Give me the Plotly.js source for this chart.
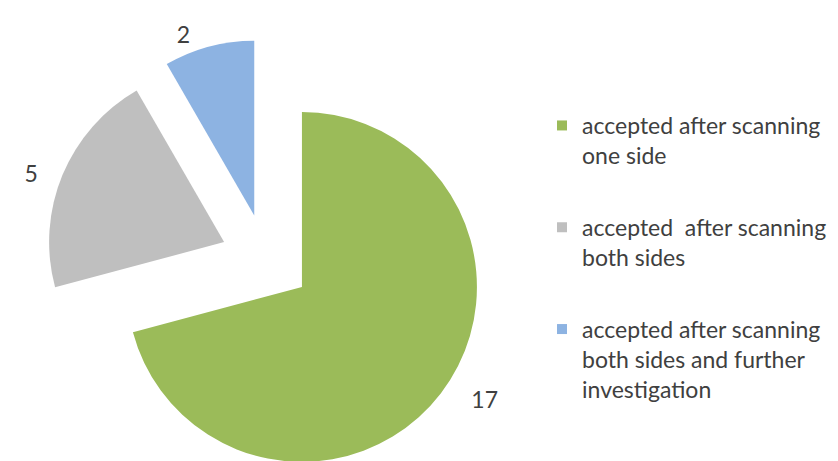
<!DOCTYPE html>
<html>
<head>
<meta charset="utf-8">
<script src="https://cdn.plot.ly/plotly-3.0.1.min.js"></script>
<style>
html,body{margin:0;padding:0;overflow:hidden;background:#fff;}
#chart{width:838px;height:500px;}
</style>
</head>
<body>
<div id="chart"></div>
<script>
const labels = [
  "accepted after scanning<br>one side",
  "accepted\u00a0 after scanning<br>both sides",
  "accepted after scanning<br>both sides and further<br>investigation"
];
const values = [17, 5, 2];
const colors = ["#9BBB59", "#BFBFBF", "#8DB3E2"];
const pulls = [0.259, 0.259, 0.259];
const NB = "\u00a0";
const valueTemplates = [NB.repeat(4) + "%{value}", "%{value}" + NB.repeat(3), "%{value}" + NB.repeat(2)];

const FONT = "Lato, 'Liberation Sans', sans-serif";
const TXT = "#404040";

const pie = {
  type: "pie",
  labels: labels,
  values: values,
  sort: false,
  direction: "clockwise",
  rotation: 0,
  pull: pulls,
  marker: {colors: colors, line: {width: 0}},
  texttemplate: valueTemplates,
  textposition: "outside",
  textfont: {family: FONT, size: 23, color: TXT},
  showlegend: false,
  domain: {x: [0.0545, 0.5803], y: [0, 0.9624]},
  hoverinfo: "label+value"
};

const legendTraces = labels.map((lab, i) => ({
  type: "scatter",
  mode: "markers",
  x: [null], y: [null],
  name: lab,
  legendgroup: "g" + i,
  marker: {symbol: "square", size: 10, color: colors[i]},
  showlegend: true,
  hoverinfo: "skip"
}));

const layout = {
  width: 838,
  height: 500,
  margin: {l: 0, r: 0, t: 0, b: 0},
  paper_bgcolor: "#ffffff",
  plot_bgcolor: "#ffffff",
  xaxis: {visible: false},
  yaxis: {visible: false},
  showlegend: true,
  legend: {
    x: 0.6468, xanchor: "left",
    y: 0.792, yanchor: "top",
    valign: "top",
    itemwidth: 30,
    tracegroupgap: 39,
    traceorder: "grouped",
    font: {family: FONT, size: 23, color: TXT},
    bgcolor: "rgba(0,0,0,0)"
  }
};

Plotly.newPlot("chart", [pie].concat(legendTraces), layout, {staticPlot: true, displayModeBar: false});
</script>
</body>
</html>
